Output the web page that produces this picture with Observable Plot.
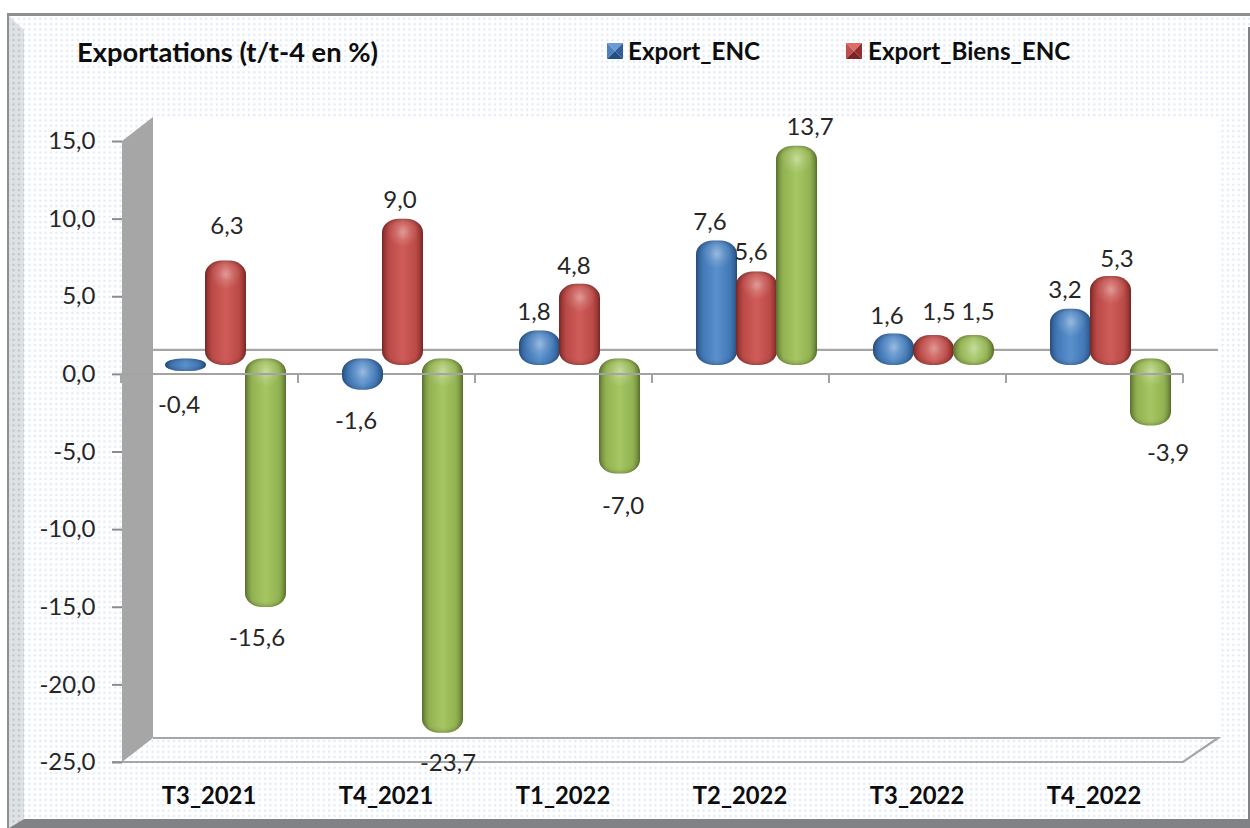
<!DOCTYPE html>
<html lang="fr">
<head>
<meta charset="utf-8">
<title>Exportations (t/t-4 en %)</title>
<script src="https://cdn.jsdelivr.net/npm/d3@7"></script>
<script src="https://cdn.jsdelivr.net/npm/@observablehq/plot@0.6"></script>
<style>
  html, body { margin: 0; padding: 0; background: #fff; }
  #chart { position: relative; width: 1250px; height: 828px; overflow: hidden; font-family: Lato, sans-serif; color: #0d0d0d; }
  #chart svg.plot { position: absolute; left: 0; top: 0; }
  .title { position: absolute; left: 77px; top: 35px; font-size: 27.3px; font-weight: 700; white-space: nowrap; line-height: 34px; }
  .lg { position: absolute; top: 34px; font-size: 24.2px; font-weight: 700; white-space: nowrap; line-height: 34px; }
  .sw { position: absolute; top: 43px; width: 16px; height: 16px; }
  g[aria-label="bar"] rect { filter: url(#inner); }
</style>
</head>
<body>
<svg width="0" height="0" style="position:absolute">
  <defs>
    <pattern id="dots" width="5.35" height="5.35" patternUnits="userSpaceOnUse">
      <rect width="5.35" height="5.35" fill="#ffffff"/>
      <rect x="1.6" y="1.6" width="2.4" height="2.4" rx="1" fill="#e0eaf8"/>
    </pattern>
    <pattern id="dotsGrey" width="5.35" height="5.35" patternUnits="userSpaceOnUse">
      <rect width="5.35" height="5.35" fill="#dfe2e4"/>
      <rect x="1.6" y="1.6" width="2.4" height="2.4" rx="1" fill="#bfc4c9"/>
    </pattern>
    <linearGradient id="gBlue"><stop offset="0" stop-color="#2f5f96"/><stop offset=".18" stop-color="#4379b6"/><stop offset=".5" stop-color="#5a90cc"/><stop offset=".82" stop-color="#4379b6"/><stop offset="1" stop-color="#2f5f96"/></linearGradient>
    <linearGradient id="gRed"><stop offset="0" stop-color="#93312f"/><stop offset=".18" stop-color="#bb4b48"/><stop offset=".5" stop-color="#cf5c58"/><stop offset=".82" stop-color="#bb4b48"/><stop offset="1" stop-color="#93312f"/></linearGradient>
    <linearGradient id="gGreen"><stop offset="0" stop-color="#6f8a3a"/><stop offset=".18" stop-color="#93b353"/><stop offset=".5" stop-color="#a5c662"/><stop offset=".82" stop-color="#93b353"/><stop offset="1" stop-color="#6f8a3a"/></linearGradient>
    <radialGradient id="shine"><stop offset="0" stop-color="#fff" stop-opacity=".38"/><stop offset=".5" stop-color="#fff" stop-opacity=".14"/><stop offset="1" stop-color="#fff" stop-opacity="0"/></radialGradient>
    <filter id="inner" x="-20%" y="-20%" width="140%" height="140%" color-interpolation-filters="sRGB">
      <feGaussianBlur in="SourceAlpha" stdDeviation="2.6" result="b"/>
      <feComposite in="SourceAlpha" in2="b" operator="out" result="rim"/>
      <feFlood flood-color="#000" flood-opacity=".42"/>
      <feComposite in2="rim" operator="in" result="shadow"/>
      <feMerge><feMergeNode in="SourceGraphic"/><feMergeNode in="shadow"/></feMerge>
    </filter>
  </defs>
</svg>
<div id="chart">
  <div class="title">Exportations (t/t-4 en %)</div>
  <svg class="sw" style="left:607px" viewBox="0 0 16 16"><polygon points="0,0 16,0 8,8" fill="#6a9bd8"/><polygon points="0,0 0,16 8,8" fill="#4f81bd"/><polygon points="16,0 16,16 8,8" fill="#2f5f96"/><polygon points="0,16 16,16 8,8" fill="#234e80"/></svg>
  <div class="lg" style="left:628px" id="l1"></div>
  <svg class="sw" style="left:846px" viewBox="0 0 16 16"><polygon points="0,0 16,0 8,8" fill="#e26c68"/><polygon points="0,0 0,16 8,8" fill="#c0504d"/><polygon points="16,0 16,16 8,8" fill="#8f302e"/><polygon points="0,16 16,16 8,8" fill="#7a2523"/></svg>
  <div class="lg" style="left:868px" id="l2"></div>
</div>
<script>
const categories = ["T3_2021", "T4_2021", "T1_2022", "T2_2022", "T3_2022", "T4_2022"];
const exportEnc = [-0.4, -1.6, 1.8, 7.6, 1.6, 3.2];
const exportBiensEnc = [6.3, 9.0, 4.8, 5.6, 1.5, 5.3];
const troisiemeSerie = [-15.6, -23.7, -7.0, 13.7, 1.5, -3.9];
const legendNames = ["Export_ENC", "Export_Biens_ENC"];
const yTicks = [15, 10, 5, 0, -5, -10, -15, -20, -25];

// Layout only: where each value label sits relative to its (front-plane) value, [dx, dy] in px
const labelNudge = [
  [[-31, 25], [17, -50], [47, 22]],
  [[-31, 22], [13, -34], [61, 21]],
  [[-30, -34], [10, -34], [59, 23]],
  [[-31, -34], [10, -35], [69, -34]],
  [[-31, -33], [21, -39], [60, -39]],
  [[-30, -34], [22, -33], [73, 18]]
];

document.getElementById("l1").textContent = legendNames[0];
document.getElementById("l2").textContent = legendNames[1];

const comma = v => v.toFixed(1).replace(".", ",");
const series = [
  {values: exportEnc, fill: "url(#gBlue)", dx: -24},
  {values: exportBiensEnc, fill: "url(#gRed)", dx: 16},
  {values: troisiemeSerie, fill: "url(#gGreen)", dx: 56}
];
const rowsOf = s => categories.map((c, i) => ({cat: c, value: s.values[i]}));

const DEPTH_X = 33, DEPTH_Y = 24, PLANE_Y = -12;

function svgEl(tag, attrs, parent) {
  const e = document.createElementNS("http://www.w3.org/2000/svg", tag);
  for (const k in attrs) e.setAttribute(k, attrs[k]);
  if (parent) parent.appendChild(e);
  return e;
}

// Chart area, 3D walls and floor, placed from the scales
function backdrop(index, scales, values, dim) {
  const g = svgEl("g", {"aria-label": "backdrop"});
  const {width, height} = dim;
  const x0 = dim.marginLeft + 2, x1 = width - dim.marginRight;
  const yT = scales.y(15), yB = scales.y(-25), y0 = scales.y(0);
  const grey = "#a6a6a6";
  svgEl("rect", {x: 7, y: 13, width: width - 7, height: height - 13, fill: "url(#dots)"}, g);
  svgEl("polygon", {points: `9,16 24,30 24,819 9,828`, fill: "url(#dotsGrey)"}, g);
  svgEl("rect", {x: 7, y: 13, width: width - 7, height: 3, fill: "#8f8f8f"}, g);
  svgEl("rect", {x: 7, y: 13, width: 2, height: height - 13, fill: "#8f8f8f"}, g);
  svgEl("polygon", {points: `9,828 24,819 ${width},819 ${width},828`, fill: "#808285"}, g);
  svgEl("rect", {x: width - 2, y: 27, width: 2, height: height - 27, fill: "#808285"}, g);
  svgEl("rect", {x: x0 + DEPTH_X - 2, y: yT - DEPTH_Y, width: x1 + DEPTH_X - x0 - DEPTH_X + 2 + 2, height: yB - yT, fill: "#fff"}, g);
  svgEl("polygon", {points: `${x0},${yT} ${x0 + DEPTH_X - 2},${yT - DEPTH_Y} ${x0 + DEPTH_X - 2},${yB - DEPTH_Y} ${x0},${yB}`, fill: grey}, g);
  svgEl("polyline", {points: `${x0 - 10},${yB} ${x1},${yB} ${x1 + DEPTH_X + 2},${yB - DEPTH_Y} ${x0 + DEPTH_X - 2},${yB - DEPTH_Y}`, fill: "none", stroke: grey, "stroke-width": 2.2}, g);
  svgEl("line", {x1: x0 + DEPTH_X - 2, x2: x1 + DEPTH_X + 2, y1: y0 - DEPTH_Y, y2: y0 - DEPTH_Y, stroke: grey, "stroke-width": 2.2}, g);
  return g;
}

// Front zero line with its category boundary ticks
function frontAxis(index, scales, values, dim) {
  const g = svgEl("g", {"aria-label": "front axis"});
  const step = scales.x(categories[1]) - scales.x(categories[0]);
  const y0 = scales.y(0);
  const grey = "#a3a3a3";
  svgEl("line", {x1: scales.x(categories[0]), x2: scales.x(categories[5]) + step, y1: y0, y2: y0, stroke: grey, "stroke-width": 2}, g);
  for (let i = 0; i <= categories.length; i++) {
    const x = i < categories.length ? scales.x(categories[i]) : scales.x(categories[5]) + step;
    svgEl("line", {x1: x, x2: x, y1: y0, y2: y0 + 9, stroke: grey, "stroke-width": 2}, g);
  }
  return g;
}

const barOpts = s => ({
  x: "cat", y: "value", fill: s.fill,
  insetLeft: 68, insetRight: 68, insetTop: -3.5, insetBottom: -3,
  rx: 17, ry: 14, dx: s.dx, dy: PLANE_Y
});
const barMark = (s, test) => Plot.barY(rowsOf(s).filter(test), barOpts(s));
const shineMark = (s, test) => Plot.dot(rowsOf(s).filter(d => Math.abs(d.value) >= 1).filter(test), {
  x: "cat", y: d => Math.max(d.value, 0), r: 15, fill: "url(#shine)", dx: s.dx, dy: -2.5
});
const isPos = d => d.value >= 0, isNeg = d => d.value < 0, all = () => true;

const labelMarks = series.flatMap((s, k) => rowsOf(s).map((d, i) =>
  Plot.text([d], {
    x: "cat", y: "value", text: t => comma(t.value),
    dx: labelNudge[i][k][0], dy: labelNudge[i][k][1],
    fontSize: 24, fill: "#262626", lineAnchor: "middle"
  })
));

const plot = Plot.plot({
  width: 1250, height: 828,
  marginLeft: 120, marginRight: 67, marginTop: 141, marginBottom: 66,
  style: {background: "transparent", fontFamily: "Lato, sans-serif", overflow: "visible"},
  x: {domain: categories, padding: 0},
  y: {domain: [-25, 15]},
  marks: [
    backdrop,
    Plot.axisY({ticks: yTicks, tickFormat: comma, tickSize: 10, tickPadding: 17, dx: 2,
      stroke: "#8c8c8c", strokeWidth: 2, fill: "#262626", fontSize: 24, label: null}),
    Plot.axisX({tickSize: 0, tickPadding: 25, dx: -1, fontSize: 23.8, fontWeight: 700, fill: "#0d0d0d", label: null}),
    barMark(series[0], isPos), shineMark(series[0], isPos),
    barMark(series[1], all), shineMark(series[1], all),
    barMark(series[2], all), shineMark(series[2], all),
    frontAxis,
    barMark(series[0], isNeg), shineMark(series[0], isNeg),
    ...labelMarks
  ]
});
plot.classList.add("plot");
document.getElementById("chart").prepend(plot);
</script>
</body>
</html>
